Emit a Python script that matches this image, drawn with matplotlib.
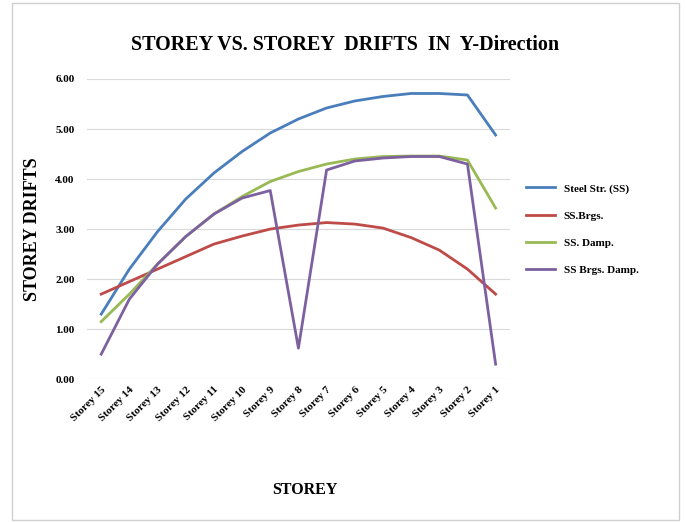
import matplotlib.pyplot as plt
from matplotlib.patches import Rectangle

plt.rcParams['font.family'] = ['Liberation Serif', 'DejaVu Serif']

# storey labels, top storey first
storeys = ["Storey 15", "Storey 14", "Storey 13", "Storey 12", "Storey 11",
           "Storey 10", "Storey 9", "Storey 8", "Storey 7", "Storey 6",
           "Storey 5", "Storey 4", "Storey 3", "Storey 2", "Storey 1"]

steel_ss = [1.30, 2.20, 2.95, 3.60, 4.12, 4.55, 4.92, 5.20, 5.42, 5.56,
            5.65, 5.71, 5.71, 5.68, 4.88]
ss_brgs = [1.70, 1.95, 2.20, 2.45, 2.70, 2.86, 3.00, 3.08, 3.13, 3.10,
           3.02, 2.83, 2.58, 2.20, 1.70]
ss_damp = [1.15, 1.70, 2.30, 2.85, 3.30, 3.65, 3.95, 4.15, 4.30, 4.40,
           4.45, 4.46, 4.46, 4.38, 3.42]
ss_brgs_damp = [0.50, 1.60, 2.30, 2.85, 3.30, 3.62, 3.77, 0.62, 4.18, 4.36,
                4.42, 4.45, 4.45, 4.30, 0.30]

series = [("Steel Str. (SS)", steel_ss, "#4A7EBB"),
          ("SS.Brgs.", ss_brgs, "#BE4B48"),
          ("SS. Damp.", ss_damp, "#98B954"),
          ("SS Brgs. Damp.", ss_brgs_damp, "#7D60A0")]

fig = plt.figure(figsize=(6.86, 5.23), dpi=100)
ax = fig.add_axes([0.127, 0.275, 0.616, 0.574])

x = range(len(storeys))
for name, vals, col in series:
    ax.plot(x, vals, color=col, lw=2, label=name)

ax.set_xlim(-0.5, 14.5)
ax.set_ylim(0, 6)
ax.set_yticks([0, 1, 2, 3, 4, 5, 6])
ax.set_yticklabels(["%.2f" % v for v in [0, 1, 2, 3, 4, 5, 6]],
                   fontsize=8, fontweight='bold')
ax.set_xticks(list(x))
ax.set_xticklabels(storeys, rotation=45, ha='right', rotation_mode='anchor',
                   fontsize=8, fontweight='bold')
ax.grid(axis='y', color='#d9d9d9', lw=0.8)
ax.set_axisbelow(True)
for s in ax.spines.values():
    s.set_visible(False)
ax.tick_params(length=0, pad=9)
ax.tick_params(axis='x', pad=4)

fig.text(0.047, 0.562, "STOREY DRIFTS", fontsize=13, fontweight='bold',
         rotation=90, ha='center', va='center')
fig.text(0.445, 0.055, "STOREY", fontsize=11.5, fontweight='bold', ha='center')
fig.text(0.503, 0.904, "STOREY VS. STOREY  DRIFTS  IN  Y-Direction",
         fontsize=14.5, fontweight='bold', ha='center')

leg = ax.legend(loc='center left', bbox_to_anchor=(1.015, 0.5), frameon=False,
                handlelength=2.6, labelspacing=1.55,
                prop={'weight': 'bold', 'size': 8})

fig.patches.append(Rectangle((0.018, 0.006), 0.972, 0.988, transform=fig.transFigure,
                             fill=False, edgecolor='#d0d0d0', lw=1))

fig.savefig("out.png", dpi=100)
